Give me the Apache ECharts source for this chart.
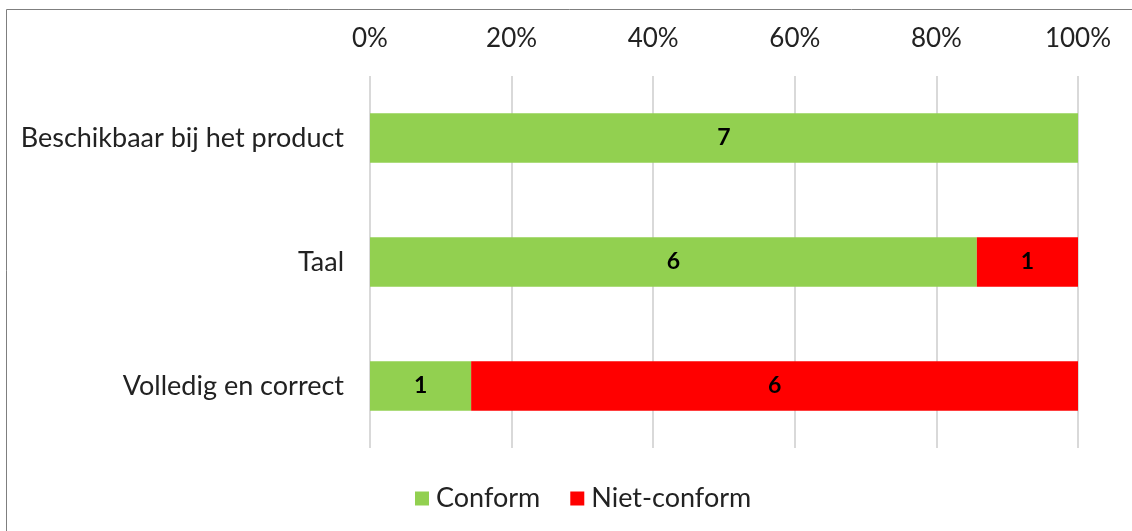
<!DOCTYPE html>
<html><head><meta charset="utf-8">
<script src="https://cdn.jsdelivr.net/npm/echarts@6/dist/echarts.min.js"></script>
<style>html,body{margin:0;padding:0;background:#fff;}#c{width:1132px;height:531px;}</style>
</head><body><div id="c"></div>
<script>
const categories = ['Beschikbaar bij het product', 'Taal', 'Volledig en correct'];
const conform = [7, 6, 1];
const nietConform = [0, 1, 6];
const tickLabels = ['0%', '20%', '40%', '60%', '80%', '100%'];

const totals = conform.map((v, i) => v + nietConform[i]);
const pct = arr => arr.map((v, i) => ({ value: v / totals[i] * 100, count: v }));
const font = 'Lato';
const chart = echarts.init(document.getElementById('c'));
const lbl = {
  show: true, position: 'inside', color: '#000', fontWeight: 'bold', fontSize: 23, fontFamily: font,
  formatter: p => p.data.count > 0 ? String(p.data.count) : ''
};
chart.setOption({
  animation: false,
  textStyle: { fontFamily: font },
  graphic: [{ type: 'rect', shape: { x: 6.5, y: 9.5, width: 1200, height: 600 }, style: { fill: 'none', stroke: '#7f7f7f', lineWidth: 1 } }],
  grid: { left: 370, right: 54, top: 76, bottom: 83 },
  legend: {
    bottom: 14, left: 410, itemWidth: 14, itemHeight: 14, itemGap: 30,
    icon: 'rect', textStyle: { fontSize: 27, fontFamily: font, color: '#222', padding: [0, 0, 0, 2] },
    data: ['Conform', 'Niet-conform']
  },
  xAxis: {
    type: 'value', position: 'top', min: 0, max: 100, interval: 20,
    axisLine: { show: false }, axisTick: { show: false },
    axisLabel: { fontSize: 26, color: '#222', margin: 24, formatter: v => tickLabels[Math.round(v / 20)] },
    splitLine: { lineStyle: { color: '#d9d9d9', width: 2 } }
  },
  yAxis: {
    type: 'category', inverse: true, data: categories,
    axisLine: { show: false }, axisTick: { show: false },
    axisLabel: { fontSize: 27, color: '#222', margin: 26 }
  },
  series: [
    { name: 'Conform', type: 'bar', stack: 't', barCategoryGap: '60%', itemStyle: { color: '#92D050' }, label: lbl, data: pct(conform) },
    { name: 'Niet-conform', type: 'bar', stack: 't', itemStyle: { color: '#FF0000' }, label: lbl, data: pct(nietConform) }
  ]
});
</script></body></html>
